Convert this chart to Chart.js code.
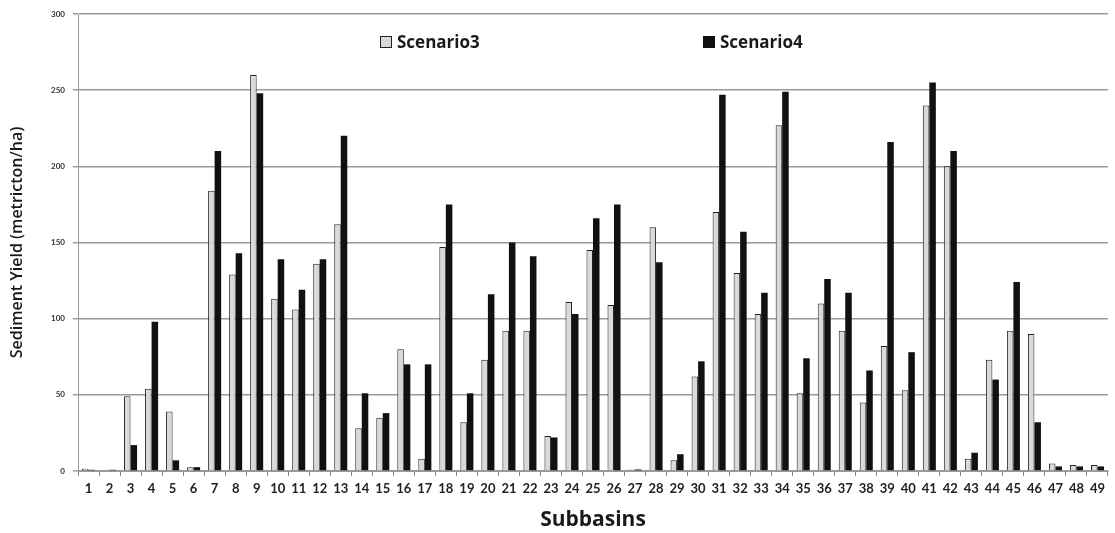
<!DOCTYPE html>
<html>
<head>
<meta charset="utf-8">
<script src="https://cdn.jsdelivr.net/npm/chart.js@4"></script>
<style>
  html, body { margin: 0; padding: 0; background: #fff; }
  #wrap { position: relative; width: 1115px; height: 533px; }
  canvas { display: block; }
  .leg { position: absolute; font-family: "Open Sans", Lato, sans-serif; font-weight: bold; font-size: 17px; color: #1a1a1a; display: flex; align-items: center; line-height: 20px; }
  .leg span.box { display: inline-block; width: 12px; height: 12px; margin-right: 5px; box-sizing: border-box; }
</style>
</head>
<body>
<div id="wrap">
  <canvas id="c" width="1115" height="533"></canvas>
  <div class="leg" style="left:380px; top:32px;"><span class="box" style="background:#d9d9d9;border:1px solid #222;"></span>Scenario3</div>
  <div class="leg" style="left:703px; top:32px;"><span class="box" style="background:#111;"></span>Scenario4</div>
</div>
<script>
const subbasins = ["1","2","3","4","5","6","7","8","9","10","11","12","13","14","15","16","17","18","19","20","21","22","23","24","25","26","27","28","29","30","31","32","33","34","35","36","37","38","39","40","41","42","43","44","45","46","47","48","49"];
const scenario3 = [1.5,0.8,49,54,39,2.5,184,129,260,113,106,136,162,28,35,80,8,147,32,73,92,92,23,111,145,109,1,160,7,62,170,130,103,227,51,110,92,45,82,53,240,200,8,73,92,90,5,4,4];
const scenario4 = [0.8,0.8,17,98,7,2.5,210,143,248,139,119,139,220,51,38,70,70,175,51,116,150,141,22,103,166,175,1,137,11,72,247,157,117,249,74,126,117,66,216,78,255,210,12,60,124,32,3,3,3];
const yTicks = [0,50,100,150,200,250,300];

new Chart(document.getElementById('c'), {
  type: 'bar',
  data: {
    labels: subbasins,
    datasets: [
      { label: 'Scenario3', data: scenario3, backgroundColor: '#d9d9d9', borderColor: '#222', borderWidth: 1, barPercentage: 1.0, categoryPercentage: 0.62 },
      { label: 'Scenario4', data: scenario4, backgroundColor: '#111', borderColor: '#111', borderWidth: 0, barPercentage: 1.0, categoryPercentage: 0.62 }
    ]
  },
  options: {
    responsive: false,
    animation: false,
    devicePixelRatio: 1,
    layout: { padding: { top: 14, right: 7, left: 4, bottom: 0 } },
    plugins: { legend: { display: false }, tooltip: { enabled: false } },
    scales: {
      x: {
        afterFit: s => { s.height = 62; },
        grid: { display: true, offset: true, drawOnChartArea: false, drawTicks: true, tickLength: 5, color: '#888' },
        border: { display: true, color: '#999', width: 1 },
        ticks: { color: '#222', font: { family: 'Lato', size: 13, weight: 'bold' }, padding: 5, maxRotation: 0, autoSkip: false },
        title: { display: true, text: 'Subbasins', color: '#1a1a1a', font: { family: 'Open Sans', size: 21, weight: 'bold' }, padding: { top: 12, bottom: 0 } }
      },
      y: {
        min: 0, max: 300,
        afterFit: s => { s.width = 74; },
        afterBuildTicks: s => { s.ticks = yTicks.map(v => ({ value: v })); },
        grid: { color: '#9a9a9a', lineWidth: 1.5, drawTicks: true, tickLength: 5 },
        border: { display: true, color: '#999', width: 1 },
        ticks: { color: '#333', font: { family: 'Lato', size: 8, weight: 'bold' }, padding: 8 },
        title: { display: true, text: 'Sediment Yield (metricton/ha)', color: '#1a1a1a', font: { family: 'Open Sans', size: 16, weight: '600' }, padding: { bottom: 10 } }
      }
    }
  }
});
</script>
</body>
</html>
